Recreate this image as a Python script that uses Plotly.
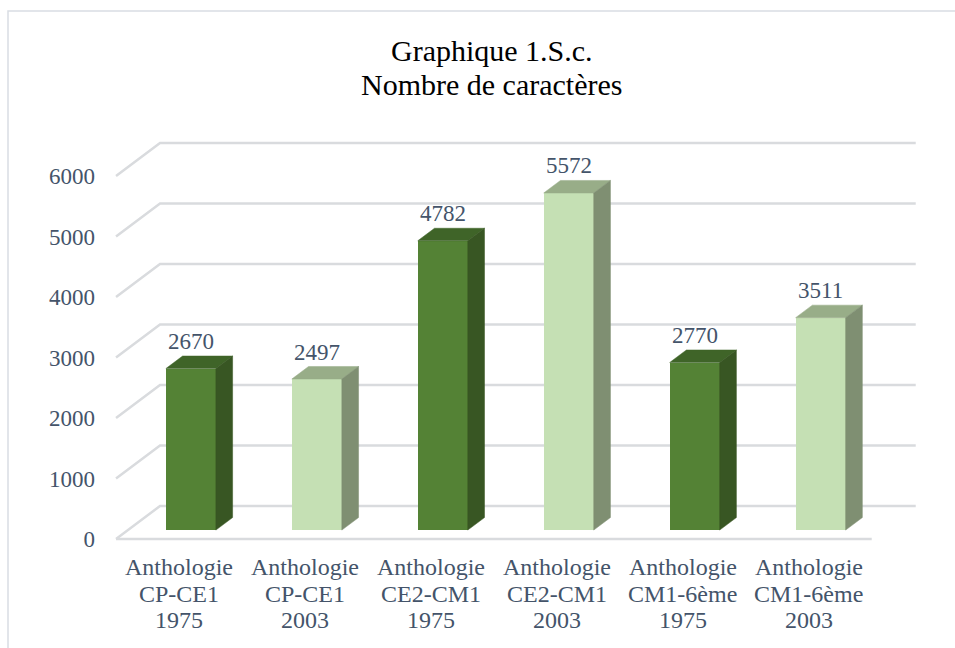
import plotly.graph_objects as go

# --- data -------------------------------------------------------------
levels = ["CP-CE1", "CP-CE1", "CE2-CM1", "CE2-CM1", "CM1-6ème", "CM1-6ème"]
years = ["1975", "2003", "1975", "2003", "1975", "2003"]
char_counts = [2670, 2497, 4782, 5572, 2770, 3511]
y_ticks = [0, 1000, 2000, 3000, 4000, 5000, 6000]
title_lines = ["Graphique 1.S.c.", "Nombre de caractères"]

# --- styling ------------------------------------------------------------
FONT = "Liberation Serif"
TXT = "#44546a"
GRID = "#d9dbde"
# (front, top, side) colours per edition year
PALETTE = {
    "1975": ("#548235", "#3f6428", "#385623"),
    "2003": ("#c5e0b4", "#98ad88", "#7f8f72"),
}

# oblique projection: depth z in [0, 1] shifts points right / up
PX_X = 125.95          # pixels per category unit
PX_Y = 0.0605          # pixels per value unit
DX = 44 / PX_X         # full depth, x units
DY = 33 / PX_Y         # full depth, y units
Z_FRONT, Z_BACK = 0.27, 0.65
BAR_W = 50 / PX_X


def proj(x, y, z):
    return x + z * DX, y + z * DY


def path_of(pts, close=False):
    d = "M " + " L ".join(f"{px},{py}" for px, py in pts)
    return d + (" Z" if close else "")


fig = go.Figure()
shapes = []

# gridlines (under the bars): short diagonal on the floor edge, then along the back wall
n = len(char_counts)
for v in y_ticks:
    pts = [proj(-0.5, v, 0), proj(-0.5, v, 1), proj(n - 0.5, v, 1)]
    shapes.append(dict(type="path", xref="x", yref="y", path=path_of(pts),
                       line=dict(color=GRID, width=2.5), layer="below"))
# front floor edge
shapes.append(dict(type="path", xref="x", yref="y",
                   path=path_of([proj(-0.5, 0, 0), proj(n - 0.5, 0, 0)]),
                   line=dict(color=GRID, width=2.5), layer="below"))

# 3-D bars: front face as a bar, top and side faces as filled polygons
for i, (v, yr) in enumerate(zip(char_counts, years)):
    front, top, side = PALETTE[yr]
    x0, x1 = i - BAR_W / 2, i + BAR_W / 2
    fx, fy = proj(i, 0, Z_FRONT)
    fig.add_trace(go.Bar(
        x=[fx], y=[v], base=[fy], width=[BAR_W],
        marker=dict(color=front, line=dict(width=0)),
        hoverinfo="skip", showlegend=False))
    top_pts = [proj(x0, v, Z_FRONT), proj(x1, v, Z_FRONT),
               proj(x1, v, Z_BACK), proj(x0, v, Z_BACK)]
    side_pts = [proj(x1, 0, Z_FRONT), proj(x1, v, Z_FRONT),
                proj(x1, v, Z_BACK), proj(x1, 0, Z_BACK)]
    for pts, col in ((top_pts, top), (side_pts, side)):
        fig.add_trace(go.Scatter(
            x=[p[0] for p in pts] + [pts[0][0]],
            y=[p[1] for p in pts] + [pts[0][1]],
            mode="lines", fill="toself", fillcolor=col,
            line=dict(color=col, width=0.5),
            hoverinfo="skip", showlegend=False))
    # value label above the bar
    lx, ly = proj(i, v, Z_FRONT)
    fig.add_annotation(x=lx, y=ly, text=str(v), showarrow=False,
                       yshift=27, font=dict(family=FONT, size=23, color=TXT))

# category labels, three lines each, below the floor
for i, (lv, yr) in enumerate(zip(levels, years)):
    for k, line in enumerate(["Anthologie", lv, yr]):
        fig.add_annotation(x=i, y=0, text=line, showarrow=False,
                           yshift=-(28 + 26.5 * k), yanchor="middle",
                           font=dict(family=FONT, size=24, color=TXT))

L, R, T, B = 112, 925, 125, 545
x_min = -67 / PX_X
x_max = x_min + (R - L) / PX_X
y_min = -(B - 539) / PX_Y
y_max = y_min + (B - T) / PX_Y

# two-line title, tight line spacing
for k, line in enumerate(title_lines):
    fig.add_annotation(
        x=(492 - L) / (R - L), xref="paper", xanchor="center",
        y=(B - (51 + 34 * k)) / (B - T), yref="paper", yanchor="middle",
        text=line, showarrow=False,
        font=dict(family=FONT, size=30, color="#000000"))

shapes.append(dict(type="rect", xref="paper", yref="paper",
                   x0=(8 - L) / (R - L), x1=1.2,
                   y0=-0.4, y1=(B - 11) / (B - T),
                   line=dict(color="#d9dde3", width=1.5), layer="below"))

fig.update_layout(
    width=955, height=648, autosize=False,
    margin=dict(l=L, r=955 - R, t=T, b=648 - B),
    paper_bgcolor="white", plot_bgcolor="white",
    bargap=0, barmode="overlay",
    xaxis=dict(range=[x_min, x_max], visible=False, fixedrange=True),
    yaxis=dict(range=[y_min, y_max], tickvals=y_ticks,
               showgrid=False, zeroline=False, showline=False, ticks="",
               ticklabelstandoff=16,
               tickfont=dict(family=FONT, size=23, color=TXT)),
    shapes=shapes,
)

fig.write_html("out.html")
